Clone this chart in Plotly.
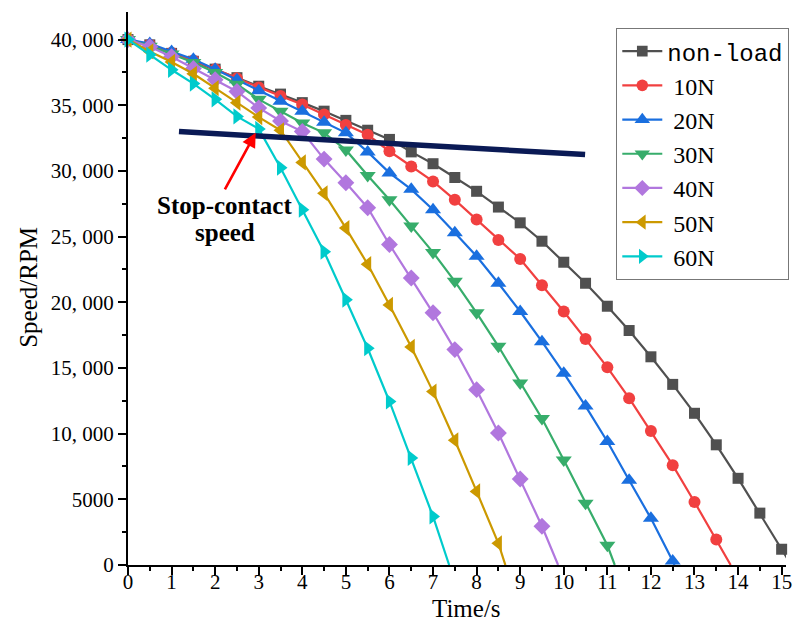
import plotly.graph_objects as go

# ---------------- data ----------------
series_names = ["<span style='font-family:Liberation Mono'>non-load</span>",
                "\u00a010N", "\u00a020N", "\u00a030N", "\u00a040N", "\u00a050N", "\u00a060N"]

t_nonload = [0, 0.5, 1, 1.5, 2, 2.5, 3, 3.5, 4, 4.5, 5, 5.5, 6, 6.5, 7, 7.5, 8, 8.5, 9, 9.5,
             10, 10.5, 11, 11.5, 12, 12.5, 13, 13.5, 14, 14.5, 15, 15.22]
rpm_nonload = [40000, 39600, 38950, 38350, 37750, 37100, 36450, 35850, 35200, 34550, 33850,
               33100, 32400, 31450, 30550, 29500, 28450, 27250, 26050, 24650, 23050, 21450,
               19700, 17850, 15850, 13750, 11550, 9150, 6600, 3950, 1200, 0]

t_10n = [0, 0.5, 1, 1.5, 2, 2.5, 3, 3.5, 4, 4.5, 5, 5.5, 6, 6.5, 7, 7.5, 8, 8.5, 9, 9.5,
         10, 10.5, 11, 11.5, 12, 12.5, 13, 13.5, 13.83]
rpm_10n = [40000, 39600, 39000, 38400, 37750, 37050, 36350, 35700, 35050, 34300, 33500, 32750,
           31500, 30330, 29200, 27800, 26300, 24750, 23300, 21300, 19300, 17200, 15050, 12700,
           10200, 7600, 4800, 1950, 0]

t_20n = [0, 0.5, 1, 1.5, 2, 2.5, 3, 3.5, 4, 4.5, 5, 5.5, 6, 6.5, 7, 7.5, 8, 8.5, 9, 9.5,
         10, 10.5, 11, 11.5, 12, 12.5, 12.54]
rpm_20n = [40000, 39700, 39100, 38500, 37750, 36950, 36100, 35300, 34550, 33700, 32900, 31450,
           29850, 28600, 27050, 25300, 23500, 21450, 19300, 17000, 14600, 12100, 9400, 6450,
           3550, 300, 0]

t_30n = [0, 0.5, 1, 1.5, 2, 2.5, 3, 3.5, 4, 4.5, 5, 5.5, 6, 6.5, 7, 7.5, 8, 8.5, 9, 9.5,
         10, 10.5, 11, 11.17]
rpm_30n = [40000, 39500, 38900, 38250, 37500, 36600, 35450, 34550, 33650, 32900, 31600, 29650,
           27800, 25800, 23800, 21600, 19200, 16650, 13850, 11150, 8000, 4700, 1500, 0]

t_40n = [0, 0.5, 1, 1.5, 2, 2.5, 3, 3.5, 4, 4.5, 5, 5.5, 6, 6.5, 7, 7.5, 8, 8.5, 9, 9.5, 9.87]
rpm_40n = [40000, 39450, 38700, 37800, 36950, 36050, 34800, 33800, 33000, 30900, 29100, 27200,
           24400, 21850, 19200, 16400, 13350, 10050, 6550, 2950, 0]

t_50n = [0, 0.5, 1, 1.5, 2, 2.5, 3, 3.5, 4, 4.5, 5, 5.5, 6, 6.5, 7, 7.5, 8, 8.5, 8.66]
rpm_50n = [40000, 39100, 38300, 37400, 36300, 35200, 34100, 33100, 30650, 28300, 25650, 22900,
           19800, 16600, 13200, 9500, 5600, 1650, 0]

t_60n = [0, 0.5, 1, 1.5, 2, 2.5, 3, 3.5, 4, 4.5, 5, 5.5, 6, 6.5, 7, 7.37]
rpm_60n = [40000, 38850, 37700, 36650, 35450, 34150, 33200, 30250, 27050, 23850, 20200, 16500,
           12450, 8150, 3700, 0]

# stop-contact speed line endpoints (time, rpm)
stop_line_t = [1.17, 10.49]
stop_line_rpm = [33000, 31250]
stop_arrow_tip = [2.93, 32900]

x_tickvals = list(range(0, 16))
y_tickvals = [0, 5000, 10000, 15000, 20000, 25000, 30000, 35000, 40000]
y_ticktext = ["0", "5000", "10, 000", "15, 000", "20, 000", "25, 000", "30, 000", "35, 000", "40, 000"]

# ---------------- styling ----------------
colors = ["#505050", "#F14040", "#1A6FDF", "#37AD6B", "#B177DE", "#CC9900", "#00CBCC"]
symbols = ["square", "circle", "triangle-up", "triangle-down", "diamond", "triangle-left", "triangle-right"]
msizes = [11, 12, 14, 14, 13, 14, 14]

all_t = [t_nonload, t_10n, t_20n, t_30n, t_40n, t_50n, t_60n]
all_v = [rpm_nonload, rpm_10n, rpm_20n, rpm_30n, rpm_40n, rpm_50n, rpm_60n]

fig = go.Figure()
for i in range(7):
    n = len(all_t[i])
    sizes = [msizes[i]] * (n - 1) + [0]
    fig.add_trace(go.Scatter(
        x=all_t[i], y=all_v[i], name=series_names[i], mode="lines+markers",
        line=dict(color=colors[i], width=2.2),
        marker=dict(symbol=symbols[i], size=sizes, color=colors[i], opacity=1,
                    line=dict(width=0)),
        cliponaxis=False, legendgroup=f"g{i}",
    ))

# stop-contact line
fig.add_trace(go.Scatter(
    x=stop_line_t, y=stop_line_rpm, mode="lines", showlegend=False,
    line=dict(color="#0A1A55", width=5.5), hoverinfo="skip"))

serif = "Liberation Serif, Times New Roman, serif"

fig.add_annotation(x=stop_arrow_tip[0], y=stop_arrow_tip[1], xref="x", yref="y",
                   ax=221.7 - 253.3, ay=196 - 138, axref="pixel", ayref="pixel",
                   showarrow=True, arrowhead=2, arrowsize=1.1, arrowwidth=2.6,
                   arrowcolor="#FF0000", text="")
fig.add_annotation(x=2.22, y=27350, xref="x", yref="y", text="<b>Stop-contact</b>",
                   showarrow=False, font=dict(family=serif, size=25, color="black"))
fig.add_annotation(x=2.22, y=25350, xref="x", yref="y", text="<b>speed</b>",
                   showarrow=False, font=dict(family=serif, size=25, color="black"))

# axis titles
fig.add_annotation(x=7.77, y=0, xref="x", yref="paper", yanchor="top", yshift=-29,
                   text="Time/s", showarrow=False, borderpad=0,
                   font=dict(family=serif, size=25, color="black"))
fig.add_annotation(x=0, y=21100, xref="paper", yref="y", xanchor="center", xshift=-99,
                   text="Speed/RPM", textangle=-90, showarrow=False,
                   font=dict(family=serif, size=25, color="black"))

fig.update_xaxes(range=[0, 15.1], tickvals=x_tickvals, ticks="outside", ticklen=8, tickwidth=2,
                 tickcolor="black", showline=True, linecolor="black", linewidth=2,
                 showgrid=False, zeroline=False, ticklabelstandoff=-11,
                 tickfont=dict(family=serif, size=21, color="black"),
                 minor=dict(dtick=0.5, ticks="outside", ticklen=4, tickwidth=2, tickcolor="black"))
fig.update_yaxes(range=[0, 42100], tickvals=y_tickvals, ticktext=y_ticktext, ticks="outside",
                 ticklen=8, tickwidth=2, tickcolor="black", showline=True, linecolor="black",
                 linewidth=2, showgrid=False, zeroline=False,
                 tickfont=dict(family=serif, size=21, color="black"),
                 minor=dict(dtick=2500, ticks="outside", ticklen=4, tickwidth=2, tickcolor="black"))

fig.update_layout(
    width=798, height=626,
    margin=dict(l=128, r=6, t=12, b=61),
    paper_bgcolor="white", plot_bgcolor="white",
    showlegend=True,
    legend=dict(x=1.005, xanchor="right", y=0.971, yanchor="top",
                bordercolor="#777777", borderwidth=1, bgcolor="white",
                font=dict(family=serif, size=24, color="black"),
                tracegroupgap=0, itemwidth=40),
)

fig.write_html("out.html")
